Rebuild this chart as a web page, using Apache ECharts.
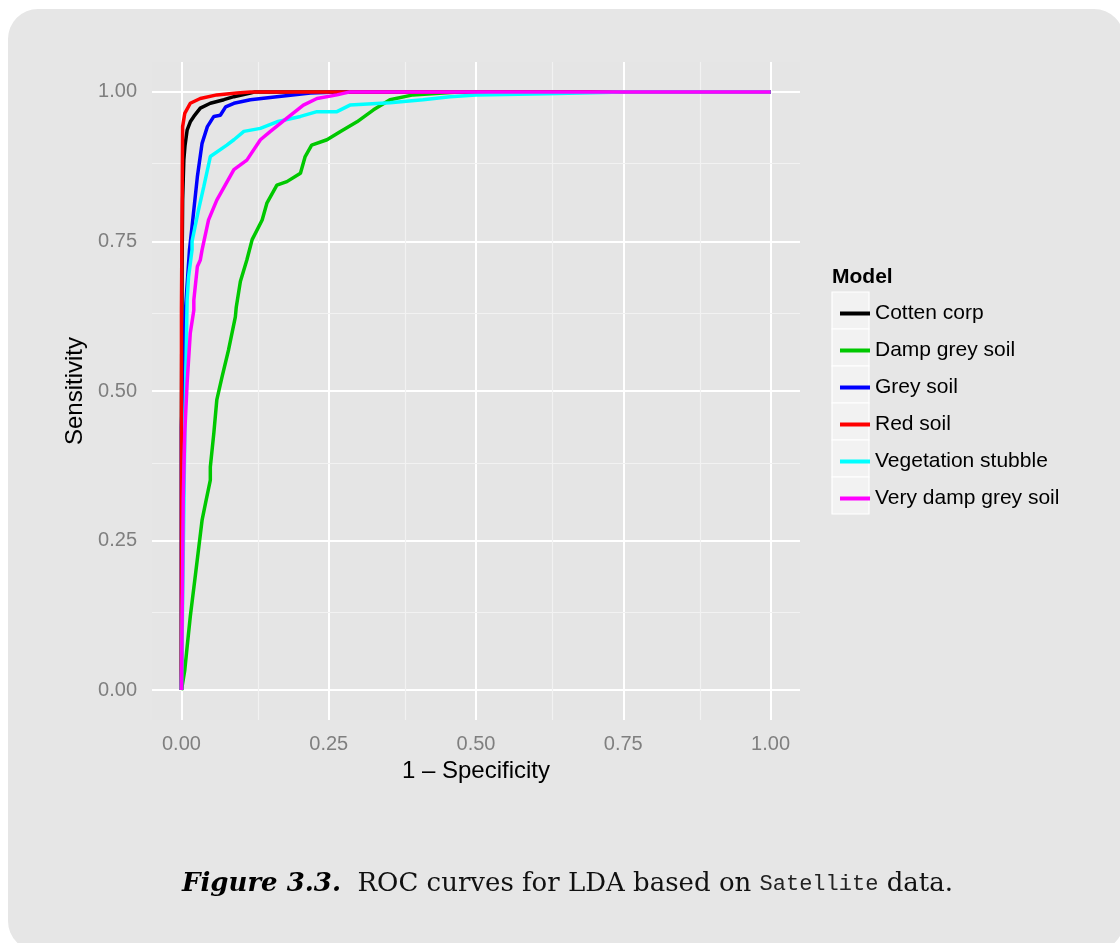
<!DOCTYPE html>
<html>
<head>
<meta charset="utf-8">
<script src="https://cdn.jsdelivr.net/npm/echarts@6/dist/echarts.min.js"></script>
<style>
html,body{margin:0;padding:0;background:#ffffff;}
#chart{width:1120px;height:943px;}
</style>
</head>
<body>
<div id="chart"></div>
<script>
// ---- data ----
const seriesNames = ['Cotten corp','Damp grey soil','Grey soil','Red soil','Vegetation stubble','Very damp grey soil'];
const seriesColors = ['#000000','#00c800','#0000ff','#ff0000','#00ffff','#ff00ff'];
const tickValues = [0, 0.25, 0.5, 0.75, 1];
const minorValues = [0.125, 0.375, 0.625, 0.875];

const cottenCorp = [[0,0],[0,0.45],[0.001,0.7],[0.002,0.82],[0.004,0.886],[0.006,0.91],[0.0096,0.936],[0.015,0.95],[0.021,0.959],[0.032,0.973],[0.049,0.981],[0.072,0.987],[0.089,0.992],[0.117,0.998],[0.125,1],[1,1]];
const dampGreySoil = [[0,0],[0.0056,0.033],[0.0096,0.072],[0.015,0.123],[0.024,0.195],[0.035,0.284],[0.042,0.318],[0.049,0.351],[0.049,0.373],[0.055,0.43],[0.06,0.485],[0.069,0.524],[0.08,0.569],[0.0915,0.624],[0.093,0.64],[0.1,0.683],[0.111,0.719],[0.12,0.753],[0.137,0.786],[0.145,0.814],[0.162,0.844],[0.179,0.85],[0.202,0.864],[0.21,0.892],[0.221,0.911],[0.247,0.92],[0.27,0.934],[0.298,0.95],[0.326,0.97],[0.354,0.987],[0.393,0.995],[0.47,1],[1,1]];
const greySoil = [[0,0],[0,0.44],[0.003,0.55],[0.0068,0.635],[0.0136,0.736],[0.018,0.775],[0.027,0.858],[0.035,0.914],[0.044,0.942],[0.055,0.959],[0.066,0.961],[0.075,0.975],[0.089,0.981],[0.117,0.987],[0.162,0.992],[0.219,0.998],[0.264,1],[1,1]];
const redSoil = [[0,0],[0,0.635],[0.002,0.942],[0.0056,0.964],[0.015,0.981],[0.032,0.989],[0.06,0.995],[0.094,0.998],[0.117,1],[1,1]];
const vegetationStubble = [[0,0],[0.004,0.3],[0.006,0.45],[0.0096,0.652],[0.012,0.69],[0.018,0.736],[0.018,0.75],[0.029,0.803],[0.038,0.842],[0.049,0.892],[0.077,0.911],[0.089,0.92],[0.106,0.934],[0.134,0.939],[0.162,0.95],[0.202,0.959],[0.23,0.967],[0.264,0.967],[0.286,0.978],[0.354,0.982],[0.41,0.987],[0.456,0.992],[0.5,0.995],[0.62,0.997],[0.75,1],[1,1]];
const veryDampGreySoil = [[0,0],[0.002,0.2],[0.003,0.318],[0.0056,0.43],[0.0096,0.513],[0.015,0.597],[0.021,0.635],[0.021,0.652],[0.027,0.708],[0.032,0.719],[0.035,0.736],[0.046,0.786],[0.06,0.819],[0.089,0.87],[0.111,0.886],[0.134,0.92],[0.151,0.934],[0.179,0.956],[0.207,0.978],[0.23,0.989],[0.264,0.995],[0.286,1],[1,1]];
const seriesData = [cottenCorp, dampGreySoil, greySoil, redSoil, vegetationStubble, veryDampGreySoil];

// ---- chart ----
const chart = echarts.init(document.getElementById('chart'), null, {renderer:'canvas'});
const SANS = 'Liberation Sans, Arial, sans-serif';
const SERIF = 'DejaVu Serif, serif';

const gridLineData = [];
tickValues.forEach(v => { gridLineData.push({xAxis:v, lineStyle:{color:'#ffffff', width:2}}); gridLineData.push({yAxis:v, lineStyle:{color:'#ffffff', width:2}}); });
minorValues.forEach(v => { gridLineData.push({xAxis:v, lineStyle:{color:'#f2f2f2', width:1.2}}); gridLineData.push({yAxis:v, lineStyle:{color:'#f2f2f2', width:1.2}}); });

const series = [{
  type:'line', name:'_grid', data:[[0,0]], showSymbol:false, lineStyle:{opacity:0}, silent:true,
  markLine:{ silent:true, z:1, symbol:['none','none'], label:{show:false}, animation:false,
    lineStyle:{type:'solid'}, emphasis:{disabled:true}, data:gridLineData }
}];
seriesNames.forEach((n,i) => {
  series.push({
    type:'line', name:n, data:seriesData[i], showSymbol:false, symbol:'none', z:2,
    color:seriesColors[i], lineStyle:{color:seriesColors[i], width:3.5}, animation:false,
    emphasis:{disabled:true}
  });
});

const keyRects = seriesNames.map((n,i) => ({
  type:'rect', z:1, silent:true,
  shape:{x:832, y:292 + 37*i, width:37, height:37},
  style:{fill:'#f2f2f2', stroke:'#ffffff', lineWidth:1.2}
}));

const option = {
  backgroundColor:'transparent',
  animation:false,
  title:[
    {text:'Model', left:832, top:267, padding:0, textStyle:{fontFamily:SANS, fontSize:21, fontWeight:'bold', color:'#000'}},
    {text:'{b|Figure 3.3.}  {r|ROC curves for LDA based on} {m|Satellite} {r|data.}', left:182, top:871, padding:0,
     textStyle:{fontWeight:'normal', fontSize:26, fontFamily:SERIF, color:'#000', rich:{
       b:{fontFamily:SERIF, fontStyle:'italic', fontWeight:'bold', fontSize:26, color:'#000'},
       r:{fontFamily:SERIF, fontWeight:'normal', fontSize:26, color:'#111'},
       m:{fontFamily:'Liberation Mono, monospace', fontWeight:'normal', fontSize:22, color:'#222'}
     }}}
  ],
  graphic:[
    {type:'rect', z:-10, silent:true, shape:{x:8, y:9, width:1116, height:942, r:30}, style:{fill:'#e6e6e6'}}
  ].concat(keyRects),
  legend:{
    data:seriesNames, orient:'vertical', left:835, top:290, itemGap:0,
    itemWidth:30, itemHeight:4, icon:'rect', selectedMode:false,
    textStyle:{fontFamily:SANS, fontSize:21, color:'#000', lineHeight:37}
  },
  grid:{left:152, top:62, width:648, height:658, show:true, backgroundColor:'#e5e5e5', borderWidth:0, containLabel:false},
  xAxis:{
    type:'value', min:-0.05, max:1.05,
    name:'1 – Specificity', nameLocation:'middle', nameGap:36,
    nameTextStyle:{fontFamily:SANS, fontSize:24, color:'#000'},
    axisLine:{show:false},
    axisTick:{show:true, length:6, customValues:tickValues, lineStyle:{color:'#7f7f7f', width:1.5}},
    axisLabel:{customValues:tickValues, margin:14, fontFamily:SANS, fontSize:20, color:'#7f7f7f', formatter:v => v.toFixed(2)},
    splitLine:{show:false}, minorSplitLine:{show:false}
  },
  yAxis:{
    type:'value', min:-0.05, max:1.05,
    name:'Sensitivity', nameLocation:'middle', nameGap:61,
    nameTextStyle:{fontFamily:SANS, fontSize:24, color:'#000'},
    axisLine:{show:false},
    axisTick:{show:true, length:6, customValues:tickValues, lineStyle:{color:'#7f7f7f', width:1.5}},
    axisLabel:{customValues:tickValues, margin:15, fontFamily:SANS, fontSize:20, color:'#7f7f7f', formatter:v => v.toFixed(2)},
    splitLine:{show:false}, minorSplitLine:{show:false}
  },
  series:series
};
chart.setOption(option);
</script>
</body>
</html>
